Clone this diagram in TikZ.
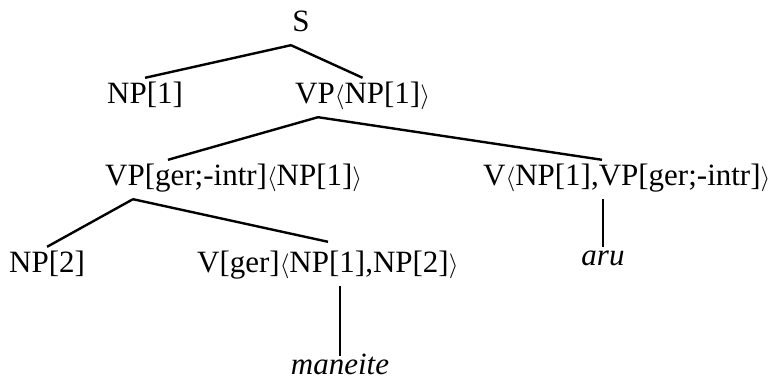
\documentclass[tikz,border=0pt]{standalone}
\usepackage{fontspec}
\setmainfont{Liberation Serif}
\usepackage{tikz}
\tikzset{
	cat/.style={anchor=base west, inner xsep=0pt, inner ysep=5pt, text height=21pt, text depth=8pt, font=\fontsize{31}{36}\selectfont},
	word/.style={cat, anchor=base, text height=14pt, font=\fontsize{31}{36}\selectfont\itshape},
	branch/.style={line width=2.4pt}
}

\begin{document}
\begin{tikzpicture}[x=1pt, y=1pt]
				\useasboundingbox (0,0) rectangle (779,382);
				% Nodes:
				\node[cat, anchor=base](S) at (301, 350){S};
				\node[cat](NP1) at (107, 278){NP[1]};
				\node[cat](VP1) at (295, 278){VP$\langle$NP[1]$\rangle$};
				\node[cat](VP2) at (105, 196){VP[ger;-intr]$\langle$NP[1]$\rangle$};
				\node[cat](V1) at (483, 196){V$\langle$NP[1],VP[ger;-intr]$\rangle$};
				\node[cat](NP2) at (9, 109){NP[2]};
				\node[cat](V2) at (197, 109){V[ger]$\langle$NP[1],NP[2]$\rangle$};
				\node[word](aru) at (603, 116){aru};
				\node[word](maneite) at (340, 7){maneite};
				% Branches:
				\draw[branch] ([xshift=-10pt]S.south) -- (NP1.north);
				\draw[branch] ([xshift=-10pt]S.south) -- (VP1.north);
				\draw[branch] ([xshift=23pt]VP1.south west) -- ([xshift=63pt]VP2.north west);
				\draw[branch] ([xshift=23pt]VP1.south west) -- ([xshift=119pt]V1.north west);
				\draw[branch] ([xshift=28pt]VP2.south west) -- (NP2.north);
				\draw[branch] ([xshift=28pt]VP2.south west) -- ([xshift=131pt, yshift=5pt]V2.north west);
				\draw[branch] (V2.south -| maneite.north) -- (maneite.north);
				\draw[branch] (V1.south -| aru.north) -- (aru.north);
			\end{tikzpicture}
\end{document}
